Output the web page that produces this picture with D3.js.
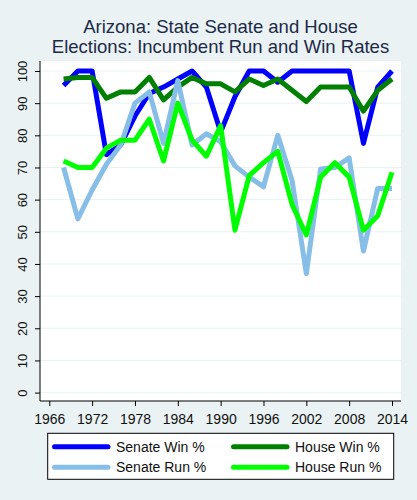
<!DOCTYPE html>
<html lang="en">
<head>
<meta charset="UTF-8">
<title>Arizona incumbent run and win rates</title>
<script src="https://d3js.org/d3.v7.min.js"></script>
<style>
    body {
        margin: 0;
        background: #eaf2f3;
        font-family: "Liberation Sans", Arial, sans-serif;
    }
    .title { fill: #1c2a48; font-size: 18.5px; text-anchor: middle; }
    .tick-label { fill: #111; }
    .legend-text { fill: #111; font-size: 14px; }
</style>
</head>
<body>
<svg id="chart"></svg>
<script>
    const width = 417, height = 500;

    // election years (every two years)
    const years = d3.range(1968, 2015, 2);

    const senateWin = [95.5, 100, 100, 74, 77, 86, 93, 95, 97.5, 100, 95, 81,
                       92, 100, 100, 96.5, 100, 100, 100, 100, 100, 77.5, 95, 100];
    const houseWin  = [97.5, 98, 98, 91.5, 93.5, 93.5, 98, 91, 95, 98, 96, 96,
                       93.5, 97.5, 95.5, 97.5, 94, 90.5, 95, 95, 95, 87.5, 94, 97.5];
    const senateRun = [70, 54, 63, 71, 77, 90, 93.5, 77.5, 97, 77, 80.5, 78,
                       70.5, 67, 64, 80, 66, 37, 69.5, 70, 73, 44, 63.5, 63.5];
    const houseRun  = [72, 70, 70, 76, 78.5, 78.5, 85, 72, 90, 78.5, 73.5, 83,
                       50.5, 67.5, 71.5, 75, 58.5, 49, 67, 71.5, 67, 50.5, 55, 68.5];

    const xTicks = d3.range(1966, 2015, 6);
    const yTicks = d3.range(0, 101, 10);

    // drawn in this order, legend fills row by row
    const series = [
        { name: "Senate Win %", values: senateWin, color: "#0000ff" },
        { name: "House Win %",  values: houseWin,  color: "#008000" },
        { name: "Senate Run %", values: senateRun, color: "#87bee8" },
        { name: "House Run %",  values: houseRun,  color: "#00ff00" }
    ];

    const plot = { left: 40, right: 401, top: 61, bottom: 401 };

    const x = d3.scaleLinear().domain([1966, 2014]).range([49.3, 392]);
    const y = d3.scaleLinear().domain([0, 100]).range([392.6, 71]);

    const svg = d3.select("#chart")
        .attr("width", width)
        .attr("height", height);

    svg.append("rect")
        .attr("width", width).attr("height", height)
        .attr("fill", "#eaf2f3");

    svg.append("rect")
        .attr("x", plot.left).attr("y", plot.top)
        .attr("width", plot.right - plot.left)
        .attr("height", plot.bottom - plot.top)
        .attr("fill", "#ffffff");

    // grid lines
    svg.append("g").selectAll("line")
        .data(yTicks)
        .enter().append("line")
        .attr("x1", plot.left).attr("x2", plot.right)
        .attr("y1", d => y(d)).attr("y2", d => y(d))
        .attr("stroke", "#eaf2f3")
        .attr("stroke-width", 1);

    // axes
    const yAxis = svg.append("g")
        .attr("transform", `translate(${plot.left},0)`)
        .call(d3.axisLeft(y).tickValues(yTicks).tickSize(5).tickPadding(8));
    yAxis.select(".domain").attr("d", `M0,${plot.top}V${plot.bottom}`).attr("stroke", "#000");
    yAxis.selectAll(".tick line").attr("stroke", "#000");
    yAxis.selectAll(".tick text")
        .attr("class", "tick-label")
        .attr("font-size", 13)
        .attr("font-family", "Liberation Sans, Arial, sans-serif")
        .attr("x", null).attr("dy", null)
        .attr("text-anchor", "middle")
        .attr("transform", "translate(-13,0) rotate(-90)");

    const xAxis = svg.append("g")
        .attr("transform", `translate(0,${plot.bottom})`)
        .call(d3.axisBottom(x).tickValues(xTicks).tickFormat(d3.format("d")).tickSize(5).tickPadding(8));
    xAxis.select(".domain").attr("d", `M${plot.left},0H${plot.right}`).attr("stroke", "#000");
    xAxis.selectAll(".tick line").attr("stroke", "#000");
    xAxis.selectAll(".tick text")
        .attr("class", "tick-label")
        .attr("font-size", 14)
        .attr("font-family", "Liberation Sans, Arial, sans-serif");

    // lines
    const line = d3.line()
        .x((d, i) => x(years[i]))
        .y(d => y(d));

    svg.append("g").selectAll("path")
        .data(series)
        .enter().append("path")
        .attr("d", d => line(d.values))
        .attr("fill", "none")
        .attr("stroke", d => d.color)
        .attr("stroke-width", 5)
        .attr("stroke-linejoin", "round");

    // title
    const title = ["Arizona: State Senate and House", "Elections: Incumbent Run and Win Rates"];
    svg.append("g").selectAll("text")
        .data(title)
        .enter().append("text")
        .attr("class", "title")
        .attr("x", (plot.left + plot.right) / 2)
        .attr("y", (d, i) => 33 + i * 20)
        .text(d => d);

    // legend
    const legend = svg.append("g");
    legend.append("rect")
        .attr("x", 47.7).attr("y", 433.3)
        .attr("width", 346).attr("height", 46)
        .attr("fill", "#fff")
        .attr("stroke", "#000")
        .attr("stroke-width", 1);

    const item = legend.selectAll(".item")
        .data(series)
        .enter().append("g")
        .attr("class", "item")
        .attr("transform", (d, i) => `translate(${i % 2 ? 231 : 52},${i < 2 ? 446.7 : 467.3})`);

    item.append("line")
        .attr("x1", 2.5).attr("x2", 56)
        .attr("stroke", d => d.color)
        .attr("stroke-width", 5)
        .attr("stroke-linecap", "round");

    item.append("text")
        .attr("class", "legend-text")
        .attr("x", 64)
        .attr("y", 5)
        .text(d => d.name);
</script>
</body>
</html>
